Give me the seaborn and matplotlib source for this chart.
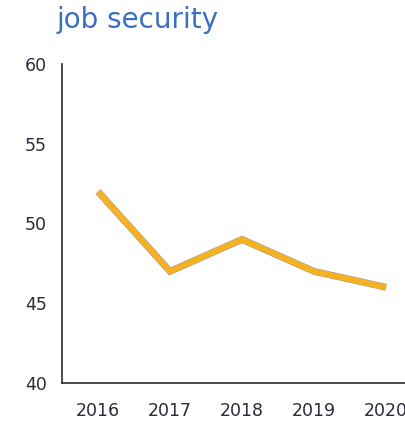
import matplotlib
matplotlib.use("Agg")
import matplotlib.pyplot as plt
import matplotlib.patheffects as pe
import seaborn as sns
import pandas as pd

years = ["2016", "2017", "2018", "2019", "2020"]
values = [52, 47, 49, 47, 46]
title = "job security"

sns.set_theme(style="white")
plt.rcParams["font.family"] = ["DejaVu Sans"]

df = pd.DataFrame({"year": years, "value": values})

fig = plt.figure(figsize=(4.06, 4.24), dpi=100)
ax = fig.add_axes([62 / 406, 41 / 424, 360 / 406, 319 / 424])

sns.lineplot(data=df, x="year", y="value", ax=ax, color="#F5B120", linewidth=4.2,
             sort=False, solid_capstyle="butt", solid_joinstyle="miter",
             path_effects=[pe.Stroke(linewidth=5.0, foreground="#a0a0a0"), pe.Normal()])

ax.set_xlim(-0.5, 4.5)
ax.set_ylim(40, 60)
ax.set_yticks([40, 45, 50, 55, 60])
ax.set_xlabel("")
ax.set_ylabel("")
for side in ["top", "right"]:
    ax.spines[side].set_visible(False)
for side in ["left", "bottom"]:
    ax.spines[side].set_color("#2b2b3b")
    ax.spines[side].set_linewidth(1.2)
ax.tick_params(axis="both", length=0, labelsize=12.5, colors="#2b2b3b")
ax.tick_params(axis="y", pad=11)
ax.tick_params(axis="x", pad=14)

fig.text(57 / 406, 1 - 20 / 424, title, color="#3A6FBF", fontsize=20,
         ha="left", va="center")

fig.savefig("out.png", dpi=100)
